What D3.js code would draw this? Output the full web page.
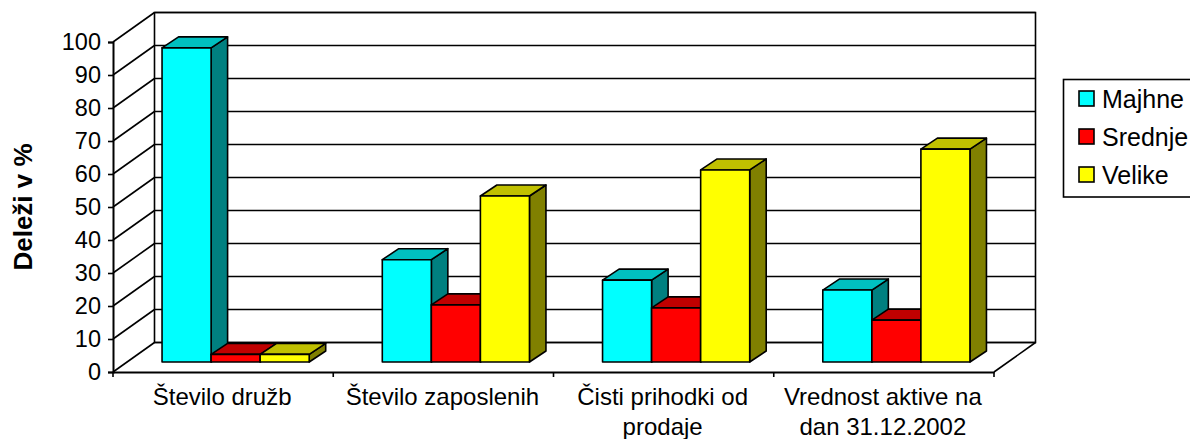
<!DOCTYPE html>
<html>
<head>
<meta charset="utf-8">
<script src="https://cdn.jsdelivr.net/npm/d3@7"></script>
<style>
    html, body { margin: 0; padding: 0; background: #fff; overflow: hidden; }
    svg { display: block; }
    text { font-family: "Liberation Sans", Arial, sans-serif; fill: #000; }
</style>
</head>
<body>
<div id="chart"></div>
<script>
const categories = ['Število družb', 'Število zaposlenih', 'Čisti prihodki od prodaje', 'Vrednost aktive na dan 31.12.2002'];
const categoryLines = [['Število družb'], ['Število zaposlenih'], ['Čisti prihodki od', 'prodaje'], ['Vrednost aktive na', 'dan 31.12.2002']];
const seriesNames = ['Majhne', 'Srednje', 'Velike'];
const majhne = [95.2, 31, 24.8, 21.8];
const srednje = [2.3, 17.3, 16.4, 12.7];
const velike = [2.3, 50.3, 58.2, 64.5];
const seriesValues = [majhne, srednje, velike];
const yTicks = d3.range(0, 101, 10);

const frontColours = ['#00ffff', '#ff0000', '#ffff00'];
const topColours = ['#00c0c0', '#c00000', '#c0c000'];
const sideColours = ['#008080', '#800000', '#808000'];

const WIDTH = 1190, HEIGHT = 439;
const LEFT = 113, RIGHT = 994, BOTTOM = 372, TOP = 42;
// oblique offsets: whole floor depth, bar front plane, bar depth
const WALL = [41.5, -29.5];
const BAR_OFFSET = [12.5, -10];
const BAR_DEPTH = [16.5, -11];

const svg = d3.select('#chart').append('svg')
    .attr('width', WIDTH)
    .attr('height', HEIGHT)
    .attr('viewBox', [0, 0, WIDTH, HEIGHT]);

const x = d3.scaleBand().domain(categories).range([LEFT, RIGHT]);
const y = d3.scaleLinear().domain([0, 100]).range([BOTTOM, TOP]);
const xInner = d3.scaleBand().domain(seriesNames).range([0, x.bandwidth()]).paddingOuter(0.745).paddingInner(0);

const poly = pts => pts.map(p => p.join(',')).join(' ');

// walls and gridlines
const walls = svg.append('g').attr('fill', 'none').attr('stroke', '#000');
walls.append('polygon')
    .attr('stroke-width', 1.6)
    .attr('points', poly([
        [LEFT + WALL[0], y(0) + WALL[1]], [LEFT + WALL[0], y(100) + WALL[1]],
        [RIGHT + WALL[0], y(100) + WALL[1]], [RIGHT + WALL[0], y(0) + WALL[1]]
    ]));
walls.selectAll('line.grid').data(yTicks).join('line')
    .attr('class', 'grid')
    .attr('stroke-width', 1.6)
    .attr('x1', LEFT + WALL[0]).attr('x2', RIGHT + WALL[0])
    .attr('y1', d => y(d) + WALL[1]).attr('y2', d => y(d) + WALL[1]);
walls.selectAll('line.side').data(yTicks).join('line')
    .attr('class', 'side')
    .attr('stroke-width', 1.6)
    .attr('x1', LEFT).attr('x2', LEFT + WALL[0])
    .attr('y1', d => y(d)).attr('y2', d => y(d) + WALL[1]);
walls.append('line')
    .attr('stroke-width', 1.6)
    .attr('x1', RIGHT).attr('y1', y(0))
    .attr('x2', RIGHT + WALL[0]).attr('y2', y(0) + WALL[1]);

// bars, left to right so the next bar covers the side of the previous one
const bars = [];
categories.forEach((c, i) => seriesNames.forEach((s, j) => bars.push({ c, s, j, value: seriesValues[j][i] })));

const bar = svg.append('g').attr('stroke', '#000').attr('stroke-width', 1.6).attr('stroke-linejoin', 'round')
    .selectAll('g').data(bars).join('g')
    .attr('transform', `translate(${BAR_OFFSET[0]},${BAR_OFFSET[1]})`);

const corners = d => {
    const x0 = x(d.c) + xInner(d.s), x1 = x0 + xInner.bandwidth();
    return { x0, x1, y0: y(0), y1: y(d.value) };
};
bar.append('polygon')
    .attr('fill', d => sideColours[d.j])
    .attr('points', d => {
        const b = corners(d);
        return poly([[b.x1, b.y0], [b.x1, b.y1], [b.x1 + BAR_DEPTH[0], b.y1 + BAR_DEPTH[1]], [b.x1 + BAR_DEPTH[0], b.y0 + BAR_DEPTH[1]]]);
    });
bar.append('polygon')
    .attr('fill', d => topColours[d.j])
    .attr('points', d => {
        const b = corners(d);
        return poly([[b.x0, b.y1], [b.x1, b.y1], [b.x1 + BAR_DEPTH[0], b.y1 + BAR_DEPTH[1]], [b.x0 + BAR_DEPTH[0], b.y1 + BAR_DEPTH[1]]]);
    });
bar.append('rect')
    .attr('fill', d => frontColours[d.j])
    .attr('x', d => corners(d).x0)
    .attr('y', d => corners(d).y1)
    .attr('width', xInner.bandwidth())
    .attr('height', d => y(0) - y(d.value));

// axes
const yAxis = svg.append('g')
    .attr('transform', `translate(${LEFT},0)`)
    .call(d3.axisLeft(y).tickValues(yTicks).tickSize(5).tickPadding(7));
yAxis.selectAll('path').attr('stroke', '#000').attr('stroke-width', 2);
yAxis.selectAll('line').attr('stroke', '#000').attr('stroke-width', 1.6);
yAxis.selectAll('text').attr('font-size', 23.5).style('font-family', '"Liberation Sans", Arial, sans-serif');

const xAxis = svg.append('g')
    .attr('transform', `translate(0,${BOTTOM})`)
    .call(d3.axisBottom(x).tickSize(0).tickFormat(''));
xAxis.select('path').attr('stroke', '#000').attr('stroke-width', 2);
xAxis.selectAll('line.boundary').data(d3.range(categories.length + 1)).join('line')
    .attr('class', 'boundary')
    .attr('stroke', '#000').attr('stroke-width', 1.6)
    .attr('x1', i => LEFT + i * x.step()).attr('x2', i => LEFT + i * x.step())
    .attr('y1', 0).attr('y2', 5);

svg.append('g').selectAll('text').data(categories).join('text')
    .attr('text-anchor', 'middle')
    .attr('font-size', 24)
    .each(function (c, i) {
        d3.select(this).selectAll('tspan').data(categoryLines[i]).join('tspan')
            .attr('x', x(c) + x.bandwidth() / 2 - 1)
            .attr('y', (d, k) => 405 + k * 30)
            .text(d => d);
    });

svg.append('text')
    .attr('transform', 'translate(32,207) rotate(-90)')
    .attr('text-anchor', 'middle')
    .attr('font-size', 26)
    .attr('font-weight', 'bold')
    .text('Deleži v %');

// legend
const legend = svg.append('g');
legend.append('rect')
    .attr('x', 1063.5).attr('y', 79.5).attr('width', 140).attr('height', 117.5)
    .attr('fill', '#fff').attr('stroke', '#000').attr('stroke-width', 1.6);
const legendRow = legend.selectAll('g').data(seriesNames).join('g')
    .attr('transform', (d, i) => `translate(1079,${91 + i * 38})`);
legendRow.append('rect')
    .attr('width', 15).attr('height', 15)
    .attr('fill', (d, i) => frontColours[i])
    .attr('stroke', '#000').attr('stroke-width', 1.6);
legendRow.append('text')
    .attr('x', 23).attr('y', 16.5)
    .attr('font-size', 25)
    .text(d => d);
</script>
</body>
</html>
